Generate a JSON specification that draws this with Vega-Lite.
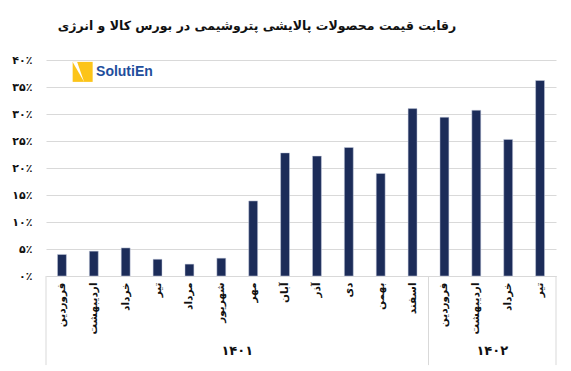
{
  "$schema": "https://vega.github.io/schema/vega-lite/v6.json",
  "width": 510,
  "height": 216,
  "autosize": {"type": "none"},
  "padding": {"left": 46, "top": 60, "right": 15, "bottom": 95},
  "background": "white",
  "config": {
    "view": {"stroke": null},
    "font": "DejaVu Sans",
    "axisY": {
      "title": null,
      "tickCount": 8,
      "labelOverlap": false,
      "labelExpr": "replace(replace(replace(replace(replace(replace(replace(replace(replace(replace(toString(datum.value),'0','۰'),'1','۱'),'2','۲'),'3','۳'),'4','۴'),'5','۵'),'6','۶'),'7','۷'),'8','۸'),'9','۹') + '٪'",
      "labelFont": "DejaVu Sans",
      "labelFontSize": 11,
      "labelFontWeight": "bold",
      "labelColor": "#111111",
      "labelPadding": 14,
      "domain": false,
      "ticks": false,
      "grid": true,
      "gridColor": "#d9d9d9",
      "gridWidth": 1
    }
  },
  "title": {
    "text": "رقابت قیمت محصولات پالایشی پتروشیمی در بورس کالا و انرژی",
    "font": "DejaVu Sans",
    "fontSize": 12.5,
    "fontWeight": "bold",
    "color": "#111111",
    "anchor": "middle",
    "dx": -44,
    "offset": 22
  },
  "data": {
    "values": [
      {"key": "01|فروردین", "year": "۱۴۰۱", "value": 4.0},
      {"key": "02|اردیبهشت", "year": "۱۴۰۱", "value": 4.6},
      {"key": "03|خرداد", "year": "۱۴۰۱", "value": 5.2},
      {"key": "04|تیر", "year": "۱۴۰۱", "value": 3.1},
      {"key": "05|مرداد", "year": "۱۴۰۱", "value": 2.2},
      {"key": "06|شهریور", "year": "۱۴۰۱", "value": 3.3},
      {"key": "07|مهر", "year": "۱۴۰۱", "value": 13.9},
      {"key": "08|آبان", "year": "۱۴۰۱", "value": 22.8},
      {"key": "09|آذر", "year": "۱۴۰۱", "value": 22.2},
      {"key": "10|دی", "year": "۱۴۰۱", "value": 23.8},
      {"key": "11|بهمن", "year": "۱۴۰۱", "value": 19.0},
      {"key": "12|اسفند", "year": "۱۴۰۱", "value": 31.0},
      {"key": "13|فروردین", "year": "۱۴۰۲", "value": 29.4},
      {"key": "14|اردیبهشت", "year": "۱۴۰۲", "value": 30.7},
      {"key": "15|خرداد", "year": "۱۴۰۲", "value": 25.3},
      {"key": "16|تیر", "year": "۱۴۰۲", "value": 36.2}
    ]
  },
  "encoding": {
    "x": {
      "field": "key",
      "type": "nominal",
      "sort": "ascending",
      "scale": {"paddingInner": 0, "paddingOuter": 0},
      "axis": {
        "title": null,
        "labelExpr": "split(datum.value, '|')[1]",
        "labelAngle": -90,
        "labelAlign": "right",
        "labelBaseline": "middle",
        "labelFont": "DejaVu Sans",
        "labelFontSize": 10.5,
        "labelFontWeight": "bold",
        "labelColor": "#111111",
        "labelPadding": 6,
        "ticks": false,
        "domainColor": "#d9d9d9",
        "domainWidth": 1,
        "grid": false
      }
    }
  },
  "layer": [
    {
      "mark": {"type": "bar", "color": "#1c2c59", "stroke": "#c9cfe0", "strokeWidth": 0.5, "width": {"band": 0.28}},
      "encoding": {
        "y": {
          "field": "value",
          "type": "quantitative",
          "scale": {"domain": [0, 40], "nice": false}
        }
      }
    },
    {
      "data": {"values": [{"key": "01|فروردین"}, {"key": "13|فروردین"}]},
      "mark": {"type": "rule", "color": "#d9d9d9", "strokeWidth": 1},
      "encoding": {
        "x": {"field": "key", "type": "nominal", "bandPosition": 0},
        "y": {"datum": 0, "type": "quantitative"},
        "y2": {"datum": -16.5}
      }
    },
    {
      "data": {"values": [{"key": "16|تیر"}]},
      "mark": {"type": "rule", "color": "#d9d9d9", "strokeWidth": 1},
      "encoding": {
        "x": {"field": "key", "type": "nominal", "bandPosition": 1},
        "y": {"datum": 0, "type": "quantitative"},
        "y2": {"datum": -16.5}
      }
    },
    {
      "data": {"values": [{"key": "07|مهر", "label": "۱۴۰۱"}, {"key": "15|خرداد", "label": "۱۴۰۲"}]},
      "mark": {"type": "text", "font": "DejaVu Sans", "fontSize": 13, "fontWeight": "bold", "color": "#111111", "baseline": "middle", "align": "center"},
      "encoding": {
        "x": {"field": "key", "type": "nominal", "bandPosition": 0},
        "y": {"datum": -13.9, "type": "quantitative"},
        "text": {"field": "label"}
      }
    },
    {
      "mark": {"type": "point", "shape": "square", "filled": true, "color": "#fcc419", "opacity": 1, "size": 400},
      "encoding": {
        "x": {"datum": "02|اردیبهشت", "bandPosition": 0.15},
        "y": {"datum": 37.8, "type": "quantitative"}
      },
      "data": {"values": [{}]}
    },
    {
      "mark": {"type": "point", "shape": "M-1,-1L-0.55,-1L0.15,1Z", "filled": true, "color": "white", "opacity": 1, "size": 400},
      "encoding": {
        "x": {"datum": "02|اردیبهشت", "bandPosition": 0.15},
        "y": {"datum": 37.8, "type": "quantitative"}
      },
      "data": {"values": [{}]}
    },
    {
      "mark": {"type": "text", "text": "SolutiEn", "font": "Liberation Sans", "fontSize": 14, "fontWeight": "bold", "color": "#1f4e9c", "align": "left", "baseline": "middle"},
      "encoding": {
        "x": {"datum": "02|اردیبهشت", "bandPosition": 0.57},
        "y": {"datum": 37.8, "type": "quantitative"}
      },
      "data": {"values": [{}]}
    }
  ]
}
